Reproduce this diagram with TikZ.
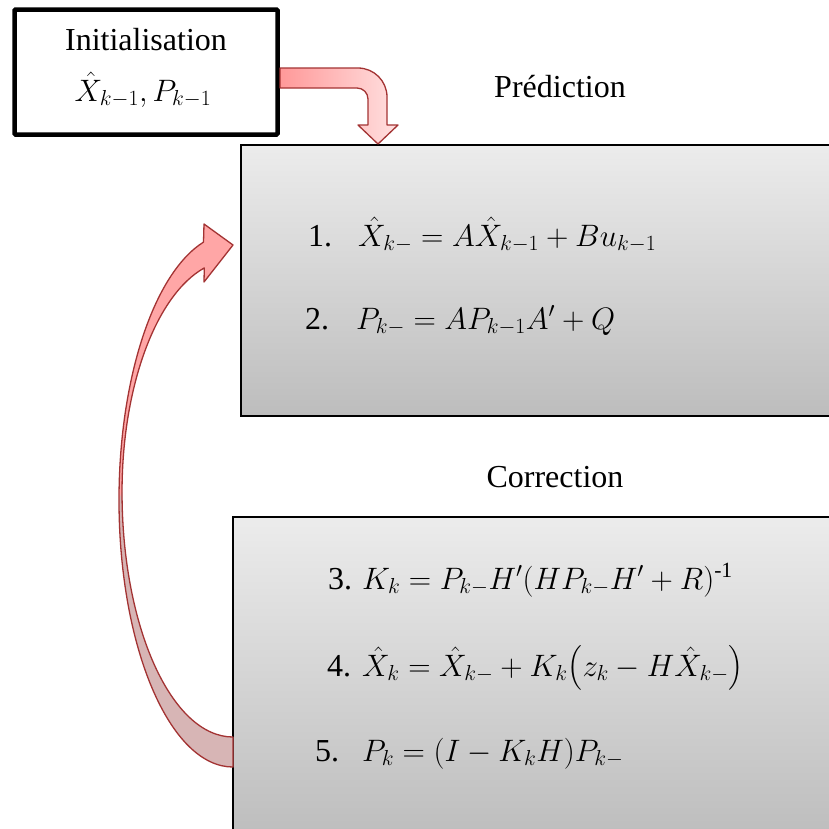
\RequirePackage{fix-cm}
\documentclass[tikz,border=0pt]{standalone}
\usepackage{fontspec}
\setmainfont{Liberation Serif}
\usepackage{amsmath}
\begin{document}
\begin{tikzpicture}[x=1pt,y=-1pt,
  txt/.style={inner sep=0pt,font=\fontsize{32}{38}\selectfont},
  mth/.style={inner sep=0pt,font=\fontsize{31}{37}\selectfont},
  greybox/.style={draw=black,line width=2.2pt,top color=gray!15,bottom color=gray!52},
  arrowline/.style={draw=red!55!black!80!white,line width=1.3pt,line join=round},
]
\useasboundingbox (0,0) rectangle (829,828);
\clip (0,0) rectangle (829,828);
\fill[white] (0,0) rectangle (829,828);

% boxes
\draw[greybox] (241,145) rectangle (845,416);
\draw[greybox] (233,517) rectangle (845,840);
\draw[line width=4.5pt,fill=white,rounded corners=1pt] (14.5,9.5) rectangle (277.5,134.5);

% init texts
\node[txt,anchor=base] (init) at (146,50) {Initialisation};
\node[mth,anchor=base] (initm) at (143,101) {$\hat{X}_{k-1},P_{k-1}$};

% titles
\node[txt,anchor=base] (pred) at (560,97) {Prédiction};
\node[txt,anchor=base] (corr) at (555,487) {Correction};

% equations
\node[txt,anchor=base west] (n1) at (308,246) {1.};
\node[mth,anchor=base west] (e1) at (358,246) {$\hat{X}_{k-}=A\hat{X}_{k-1}+Bu_{k-1}$};
\node[txt,anchor=base west] (n2) at (305,329) {2.};
\node[mth,anchor=base west] (e2) at (356,329) {$P_{k-}=AP_{k-1}A'+Q$};
\node[txt,anchor=base west] (n3) at (328,589) {3.};
\node[mth,anchor=base west] (e3) at (362,589) {$K_k=P_{k-}H'(HP_{k-}H'+R)$\textsuperscript{-1}};
\node[txt,anchor=base west] (n4) at (327,676) {4.};
\node[mth,anchor=base west] (e4) at (362,676) {$\hat{X}_k=\hat{X}_{k-}+K_k\bigl(z_k-H\hat{X}_{k-}\bigr)$};
\node[txt,anchor=base west] (n5) at (315,761) {5.};
\node[mth,anchor=base west] (e5) at (362,761) {$P_k=(I-K_kH)P_{k-}$};

% top bent arrow
\path[arrowline,left color=red!40,right color=red!12]
  (280,68) -- (358,68) arc[start angle=270,end angle=360,radius=29]
  -- (387,125) -- (398,125) -- (378,144) -- (358,125) -- (368,125)
  -- (368,99) arc[start angle=360,end angle=270,radius=11] -- (280,88) -- cycle;

% curved return arrow
\fill[red!35]
  (233,767) arc[start angle=90,end angle=255,x radius=114,y radius=267]
  -- (204,224) -- (233,245) -- (204,282) -- (204.3,267.9)
  arc[start angle=255,end angle=180,x radius=111,y radius=232]
  arc[start angle=180,end angle=90,x radius=111,y radius=245] -- cycle;
\fill[red!30!gray!45]
  (233,767) arc[start angle=90,end angle=180,x radius=114,y radius=267]
  -- (122,492) arc[start angle=180,end angle=90,x radius=111,y radius=245] -- cycle;
\path[arrowline]
  (233,767) arc[start angle=90,end angle=255,x radius=114,y radius=267]
  -- (204,224) -- (233,245) -- (204,282) -- (204.3,267.9)
  arc[start angle=255,end angle=180,x radius=111,y radius=232]
  arc[start angle=180,end angle=90,x radius=111,y radius=245] -- cycle;
\end{tikzpicture}
\end{document}
